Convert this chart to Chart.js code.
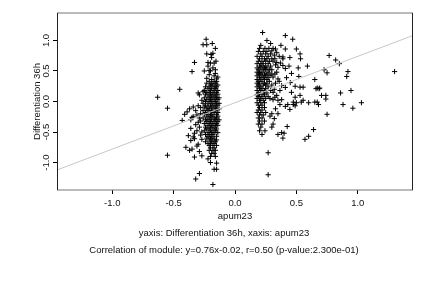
<!DOCTYPE html>
<html><head><meta charset="utf-8">
<script src="https://cdn.jsdelivr.net/npm/chart.js@4/dist/chart.umd.min.js"></script>
<style>html,body{margin:0;padding:0;background:#fff;}canvas{display:block;}</style>
</head><body>
<canvas id="c" width="432" height="288"></canvas>
<script>
// ---- text & ticks ----
const xTicks = [-1.0, -0.5, 0.0, 0.5, 1.0];
const yTicks = [-1.0, -0.5, 0.0, 0.5, 1.0];
const xTitle = 'apum23';
const yTitle = 'Differentiation 36h';
const subLine1 = 'yaxis: Differentiation 36h, xaxis: apum23';
const subLine2 = 'Correlation of module: y=0.76x-0.02, r=0.50 (p-value:2.300e-01)';
const fitSlope = 0.76;
const fitIntercept = -0.02;
const axisMin = -1.45;
const axisMax = 1.45;

// ---- data: [apum23, Differentiation 36h] ----
const leftOutliers = [
[-0.63,0.07],[-0.55,-0.11],[-0.45,0.20],[-0.35,0.49],[-0.33,0.64],[-0.55,-0.88],
[-0.41,-0.21],[-0.43,-0.31],[-0.37,-0.12],[-0.34,-0.09],[-0.30,-0.07],[-0.29,0.11],[-0.30,0.14],[-0.26,0.16],
[-0.35,-0.26],[-0.34,-0.25],[-0.30,-0.34],[-0.28,-0.32],[-0.38,-0.56],[-0.33,-0.61],[-0.34,-0.58],[-0.31,-0.48],
[-0.27,-0.50],[-0.40,-0.75],[-0.37,-0.80],[-0.35,-0.78],[-0.31,-0.73],[-0.30,-0.70],[-0.27,-0.89],[-0.33,-0.91],
[-0.22,-0.94],[-0.20,-1.00],[-0.15,-1.01],[-0.17,-1.11],[-0.15,-1.11],[-0.29,-1.18],[-0.32,-1.27],[-0.18,-1.36],
[-0.28,-0.20],[-0.29,-0.42],[-0.27,-0.62],[-0.28,-0.10],[-0.31,-0.22],[-0.27,0.02],[-0.28,-0.55],[-0.36,-0.44],
[-0.32,-0.38],[-0.39,-0.17],[-0.32,-0.15],[-0.36,-0.30],[-0.29,-0.27],[-0.33,-0.52],[-0.36,-0.64],[-0.29,-0.82]
];
const leftBandTop = [
[-0.235,1.02],[-0.26,0.93],[-0.23,0.93],[-0.185,0.95],[-0.16,0.87],[-0.195,0.77],[-0.18,0.79],[-0.20,0.63],
[-0.17,0.63],[-0.155,0.66],[-0.21,0.51],[-0.20,0.50],[-0.16,0.52],[-0.15,0.37],[-0.19,0.72],[-0.21,0.44],
[-0.17,0.42],[-0.23,0.38],[-0.19,0.36],[-0.16,0.46],[-0.14,0.40],[-0.22,0.58],[-0.18,0.55],[-0.23,0.78],
[-0.25,0.50],[-0.22,0.64]
];
const leftBandCore = [
[-0.21,0.33],[-0.17,0.33],[-0.15,0.33],[-0.23,0.30],[-0.19,0.30],[-0.16,0.30],[-0.20,0.27],[-0.18,0.27],[-0.14,0.27],
[-0.24,0.24],[-0.21,0.24],[-0.17,0.24],[-0.15,0.24],[-0.22,0.21],[-0.19,0.21],[-0.16,0.21],
[-0.25,0.18],[-0.20,0.18],[-0.17,0.18],[-0.14,0.18],[-0.23,0.15],[-0.21,0.15],[-0.18,0.15],[-0.15,0.15],
[-0.24,0.12],[-0.20,0.12],[-0.17,0.12],[-0.14,0.12],[-0.22,0.09],[-0.19,0.09],[-0.16,0.09],
[-0.25,0.06],[-0.21,0.06],[-0.18,0.06],[-0.15,0.06],[-0.13,0.06],[-0.23,0.03],[-0.20,0.03],[-0.17,0.03],[-0.14,0.03],
[-0.24,0.00],[-0.21,0.00],[-0.19,0.00],[-0.16,0.00],[-0.26,-0.03],[-0.22,-0.03],[-0.18,-0.03],[-0.15,-0.03],[-0.13,-0.03],
[-0.24,-0.06],[-0.20,-0.06],[-0.17,-0.06],[-0.14,-0.06],[-0.25,-0.09],[-0.22,-0.09],[-0.19,-0.09],[-0.16,-0.09],
[-0.23,-0.12],[-0.21,-0.12],[-0.18,-0.12],[-0.15,-0.12],[-0.13,-0.12],[-0.26,-0.15],[-0.22,-0.15],[-0.19,-0.15],[-0.16,-0.15],
[-0.24,-0.18],[-0.20,-0.18],[-0.17,-0.18],[-0.14,-0.18],[-0.25,-0.21],[-0.22,-0.21],[-0.19,-0.21],[-0.15,-0.21],
[-0.23,-0.24],[-0.20,-0.24],[-0.18,-0.24],[-0.14,-0.24],[-0.26,-0.27],[-0.21,-0.27],[-0.17,-0.27],[-0.15,-0.27],
[-0.24,-0.30],[-0.22,-0.30],[-0.19,-0.30],[-0.16,-0.30],[-0.13,-0.30],[-0.23,-0.33],[-0.20,-0.33],[-0.17,-0.33],[-0.14,-0.33],
[-0.25,-0.36],[-0.21,-0.36],[-0.18,-0.36],[-0.15,-0.36],[-0.22,-0.39],[-0.19,-0.39],[-0.16,-0.39],[-0.14,-0.39],
[-0.24,-0.42],[-0.20,-0.42],[-0.17,-0.42],[-0.23,-0.45],[-0.21,-0.45],[-0.18,-0.45],[-0.15,-0.45],
[-0.25,-0.48],[-0.20,-0.48],[-0.16,-0.48],[-0.22,-0.51],[-0.19,-0.51],[-0.17,-0.51],[-0.14,-0.51],
[-0.24,-0.54],[-0.21,-0.54],[-0.18,-0.54],[-0.22,-0.57],[-0.19,-0.57],[-0.15,-0.57],
[-0.23,-0.60],[-0.20,-0.60],[-0.17,-0.60],[-0.21,-0.63],[-0.18,-0.63],[-0.15,-0.63],
[-0.24,-0.66],[-0.19,-0.66],[-0.16,-0.66],[-0.22,-0.69],[-0.20,-0.69],[-0.17,-0.69],
[-0.21,-0.72],[-0.18,-0.72],[-0.15,-0.72],[-0.20,-0.76],[-0.17,-0.76],
[-0.21,-0.80],[-0.18,-0.80],[-0.16,-0.80],[-0.19,-0.85],[-0.17,-0.85],[-0.20,-0.90],[-0.16,-0.90]
];
const rightBandCore = [
[0.21,0.92],[0.20,0.87],[0.244,0.87],[0.276,0.87],[0.19,0.82],[0.23,0.82],[0.26,0.82],
[0.21,0.78],[0.25,0.78],[0.29,0.78],[0.18,0.74],[0.22,0.74],[0.27,0.74],
[0.20,0.70],[0.24,0.70],[0.26,0.70],[0.30,0.70],[0.19,0.66],[0.22,0.66],[0.25,0.66],[0.28,0.66],
[0.18,0.62],[0.21,0.62],[0.23,0.62],[0.27,0.62],[0.20,0.58],[0.22,0.58],[0.25,0.58],[0.29,0.58],
[0.18,0.55],[0.21,0.55],[0.24,0.55],[0.26,0.55],[0.19,0.52],[0.23,0.52],[0.25,0.52],[0.28,0.52],
[0.18,0.48],[0.20,0.48],[0.22,0.48],[0.27,0.48],[0.19,0.45],[0.21,0.45],[0.24,0.45],[0.26,0.45],[0.30,0.45],
[0.18,0.42],[0.22,0.42],[0.25,0.42],[0.20,0.39],[0.23,0.39],[0.27,0.39],
[0.18,0.36],[0.21,0.36],[0.24,0.36],[0.26,0.36],[0.19,0.33],[0.22,0.33],[0.28,0.33],
[0.18,0.30],[0.20,0.30],[0.24,0.30],[0.26,0.30],[0.19,0.27],[0.23,0.27],[0.25,0.27],[0.30,0.27],
[0.18,0.24],[0.21,0.24],[0.27,0.24],[0.20,0.21],[0.22,0.21],[0.25,0.21],
[0.18,0.18],[0.21,0.18],[0.24,0.18],[0.29,0.18],[0.19,0.14],[0.23,0.14],[0.26,0.14],
[0.18,0.11],[0.20,0.11],[0.24,0.11],[0.19,0.08],[0.22,0.08],[0.27,0.08],
[0.18,0.05],[0.21,0.05],[0.25,0.05],[0.20,0.02],[0.23,0.02],
[0.18,-0.02],[0.21,-0.02],[0.24,-0.02],[0.19,-0.06],[0.22,-0.06],[0.20,-0.10],[0.24,-0.10],
[0.19,-0.14],[0.22,-0.14],[0.18,-0.18],[0.21,-0.18],[0.25,-0.18],[0.20,-0.22],[0.23,-0.22],
[0.19,-0.27],[0.22,-0.27],[0.20,-0.32],[0.24,-0.32],[0.19,-0.37],[0.22,-0.37],[0.21,-0.42],
[0.20,-0.48],[0.244,-0.48],[0.22,-0.54]
];
const rightSpread = [
[0.225,1.13],[0.41,1.08],[0.47,1.02],[0.374,0.92],[0.41,0.86],[0.50,0.86],[0.53,0.78],[0.534,0.70],
[0.31,0.87],[0.34,0.80],[0.36,0.74],[0.39,0.73],[0.447,0.72],[0.39,0.59],[0.35,0.56],[0.41,0.54],
[0.515,0.55],[0.59,0.58],[0.52,0.41],[0.65,0.36],[0.41,0.23],[0.49,0.25],[0.53,0.235],[0.555,0.235],
[0.67,0.22],[0.69,0.22],[0.39,0.70],[0.325,0.70],[0.34,0.64],[0.37,0.63],[0.285,0.43],[0.325,0.45],
[0.35,0.37],[0.366,0.18],[0.31,0.15],[0.46,0.15],[0.53,0.10],[0.555,0.02],[0.60,-0.02],[0.65,-0.01],
[0.49,0.07],[0.475,-0.01],[0.705,0.10],[0.74,0.10],[0.285,0.05],[0.325,0.07],[0.35,0.02],[0.38,0.03],
[0.366,-0.05],[0.41,-0.08],[0.43,-0.05],[0.447,-0.13],[0.475,-0.05],[0.50,-0.02],[0.49,-0.07],[0.54,-0.01],
[0.30,-0.20],[0.285,-0.24],[0.31,-0.37],[0.30,-0.42],[0.425,-0.41],[0.64,-0.46],[0.35,-0.54],[0.38,-0.51],
[0.40,-0.52],[0.39,-0.60],[0.60,-0.57],[0.57,-0.62],[0.27,-0.84],[0.27,-1.20],
[0.33,0.86],[0.30,0.83],[0.32,0.76],[0.31,0.66],[0.33,0.60],[0.30,0.52],[0.34,0.48],[0.31,0.40],
[0.33,0.30],[0.36,0.33],[0.42,0.39],[0.45,0.31],[0.38,0.26],[0.32,0.20],[0.34,0.10],[0.31,0.03],
[0.33,-0.12],[0.35,-0.20],[0.32,-0.28],[0.44,0.58],[0.46,0.46],[0.29,0.95],[0.26,1.00]
];
const farRight = [
[0.767,0.754],[0.82,0.68],[0.85,0.62],[0.726,0.52],[0.75,0.47],[0.92,0.49],[0.91,0.41],[1.30,0.49],
[0.66,0.21],[0.685,0.21],[0.86,0.14],[0.945,0.18],[0.74,0.04],[0.67,-0.01],[0.68,-0.05],[0.88,-0.05],
[1.03,-0.02],[0.96,-0.11],[0.75,-0.21]
];

const allPoints = [].concat(leftOutliers, leftBandTop, leftBandCore, rightBandCore, rightSpread, farRight)
  .map(p => ({x: p[0], y: p[1]}));
const fitLine = [axisMin, axisMax].map(x => ({x: x, y: fitSlope * x + fitIntercept}));

const FONT = "'Liberation Sans', Arial, Helvetica, sans-serif";
const FS = 9.5;

const boxAndText = {
  id: 'boxAndText',
  afterDraw(chart) {
    const ctx = chart.ctx, a = chart.chartArea;
    ctx.save();
    ctx.lineWidth = 1;
    ctx.strokeStyle = '#777';
    ctx.beginPath();
    ctx.moveTo(a.left, a.top); ctx.lineTo(a.right, a.top);
    ctx.moveTo(a.left, a.bottom); ctx.lineTo(a.right, a.bottom);
    ctx.stroke();
    ctx.strokeStyle = '#222';
    ctx.beginPath();
    ctx.moveTo(Math.round(a.left) + 0.5, a.top); ctx.lineTo(Math.round(a.left) + 0.5, a.bottom);
    ctx.moveTo(Math.round(a.right) - 0.5, a.top); ctx.lineTo(Math.round(a.right) - 0.5, a.bottom);
    ctx.stroke();
    ctx.fillStyle = '#111';
    ctx.font = FS + 'px ' + FONT;
    ctx.textAlign = 'center';
    ctx.textBaseline = 'middle';
    ctx.fillText(subLine1, 224, 233);
    ctx.fillText(subLine2, 224, 250);
    ctx.restore();
  }
};

new Chart(document.getElementById('c'), {
  type: 'scatter',
  data: {
    datasets: [
      {
        label: 'genes',
        data: allPoints,
        pointStyle: 'cross',
        pointRadius: 2.6,
        pointBorderWidth: 1,
        borderColor: '#000',
        backgroundColor: '#000',
        order: 1
      },
      {
        type: 'line',
        label: 'fit',
        data: fitLine,
        borderColor: '#c8c8c8',
        borderWidth: 1,
        pointRadius: 0,
        fill: false,
        order: 0
      }
    ]
  },
  options: {
    responsive: false,
    animation: false,
    events: [],
    layout: { padding: { left: 0, right: 19, top: 13, bottom: 0 } },
    plugins: { legend: { display: false }, tooltip: { enabled: false } },
    scales: {
      x: {
        type: 'linear',
        min: axisMin, max: axisMax,
        afterBuildTicks: s => { s.ticks = xTicks.map(v => ({value: v})); },
        afterFit: s => { s.height = 98; },
        grid: { display: true, drawOnChartArea: false, drawTicks: true, tickLength: 4, color: '#000', lineWidth: 1 },
        border: { display: false },
        ticks: { color: '#111', font: { family: FONT, size: FS }, padding: 4, maxRotation: 0, autoSkip: false,
                 callback: v => Number(v).toFixed(1) },
        title: { display: true, text: xTitle, color: '#111', font: { family: FONT, size: FS }, padding: { top: 0, bottom: 66.3 } }
      },
      y: {
        type: 'linear',
        min: axisMin, max: axisMax,
        afterBuildTicks: s => { s.ticks = yTicks.map(v => ({value: v})); },
        afterFit: s => { s.width = 57; },
        grid: { display: true, drawOnChartArea: false, drawTicks: true, tickLength: 4, color: '#000', lineWidth: 1 },
        border: { display: false },
        ticks: { color: '#111', font: { family: FONT, size: FS }, padding: -2, minRotation: 90, maxRotation: 90,
                 crossAlign: 'center', autoSkip: false, callback: v => Number(v).toFixed(1) },
        title: { display: true, text: yTitle, color: '#111', font: { family: FONT, size: FS }, padding: { top: 31.3, bottom: 0 } }
      }
    }
  },
  plugins: [boxAndText]
});
</script>
</body></html>
